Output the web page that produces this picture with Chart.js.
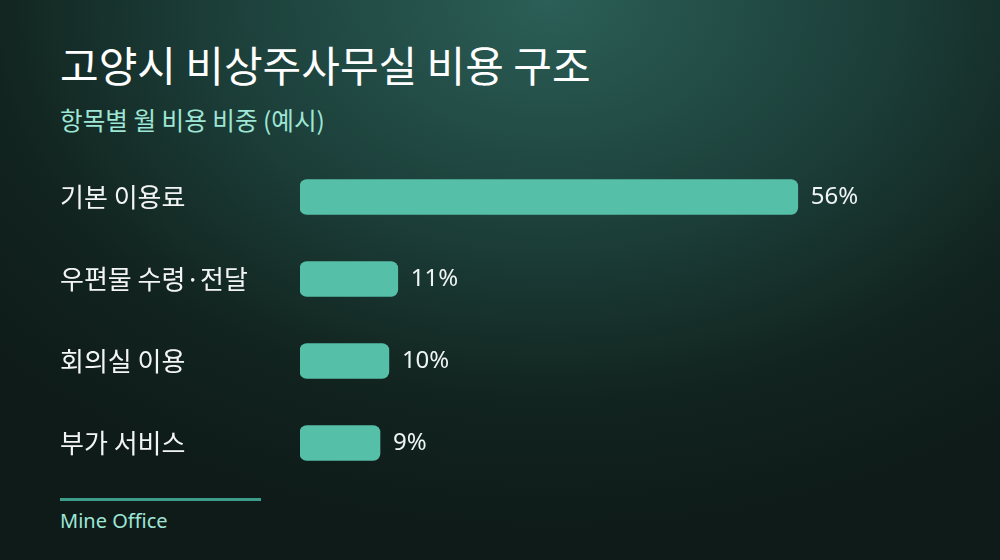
<!DOCTYPE html>
<html>
<head>
<meta charset="utf-8">
<script src="https://cdn.jsdelivr.net/npm/chart.js@4"></script>
<style>
  html, body { margin: 0; padding: 0; }
  body {
    width: 1000px; height: 560px; overflow: hidden; position: relative;
    background: radial-gradient(ellipse 75% 95% at 55% 0%, #2b5f57 0%, #1c3e39 45%, #12241f 75%, #0e1b19 100%);
    font-family: "Noto Sans", "Noto Sans CJK KR", sans-serif;
  }
  #title { position: absolute; left: 60px; top: 37px; font-size: 42px; font-weight: 400; color: #ffffff; font-family: "Noto Sans CJK KR", sans-serif; line-height: 1.3; }
  #subtitle { position: absolute; left: 60px; top: 104px; font-size: 24.6px; font-weight: 400; color: #9ee6d6; font-family: "Noto Sans CJK KR", sans-serif; line-height: 1.3; }
  #rule { position: absolute; left: 60px; top: 498px; width: 201px; height: 3px; background: #3c9d89; }
  #brand { position: absolute; left: 60px; top: 507px; font-size: 20px; color: #9ee6d6; }
  #wrap { position: absolute; left: 0; top: 0; width: 1000px; height: 560px; }
</style>
</head>
<body>
<div id="title">고양시 비상주사무실 비용 구조</div>
<div id="subtitle">항목별 월 비용 비중 (예시)</div>
<div id="rule"></div>
<div id="brand">Mine Office</div>
<div id="wrap"><canvas id="chart"></canvas></div>
<script>
// 항목별 비중 (%)
const categories = ['기본 이용료', '우편물 수령·전달', '회의실 이용', '부가 서비스'];
const shares = [56, 11, 10, 9];

// draw "56%" etc. right after each bar
const valueLabels = {
    id: 'valueLabels',
    afterDatasetsDraw(chart) {
        const ctx = chart.ctx;
        const meta = chart.getDatasetMeta(0);
        ctx.save();
        ctx.font = '24px "Noto Sans", "Noto Sans CJK KR", sans-serif';
        ctx.fillStyle = '#eef5f3';
        ctx.textAlign = 'left';
        ctx.textBaseline = 'middle';
        meta.data.forEach((bar, i) => {
            ctx.fillText(shares[i] + '%', bar.x + 13, bar.y);
        });
        ctx.restore();
    }
};

const ctx = document.getElementById('chart').getContext('2d');

new Chart(ctx, {
    type: 'bar',
    data: {
        labels: categories,
        datasets: [{
            data: shares,
            backgroundColor: '#55bfa8',
            borderRadius: 7,
            borderSkipped: false,
            barThickness: 35
        }]
    },
    options: {
        indexAxis: 'y',
        responsive: true,
        maintainAspectRatio: false,
        animation: false,
        layout: {
            padding: { left: 60, right: 60, top: 156, bottom: 76 }
        },
        plugins: {
            legend: { display: false },
            tooltip: { enabled: false }
        },
        scales: {
            x: {
                min: 0,
                max: 72,
                display: false
            },
            y: {
                grid: { display: false },
                border: { display: false },
                afterFit(scale) { scale.width = 240; },
                ticks: {
                    crossAlign: 'far',
                    color: '#f2f5f4',
                    padding: 0,
                    font: { size: 26, family: '"Noto Sans CJK KR", sans-serif' }
                }
            }
        }
    },
    plugins: [valueLabels]
});
</script>
</body>
</html>
